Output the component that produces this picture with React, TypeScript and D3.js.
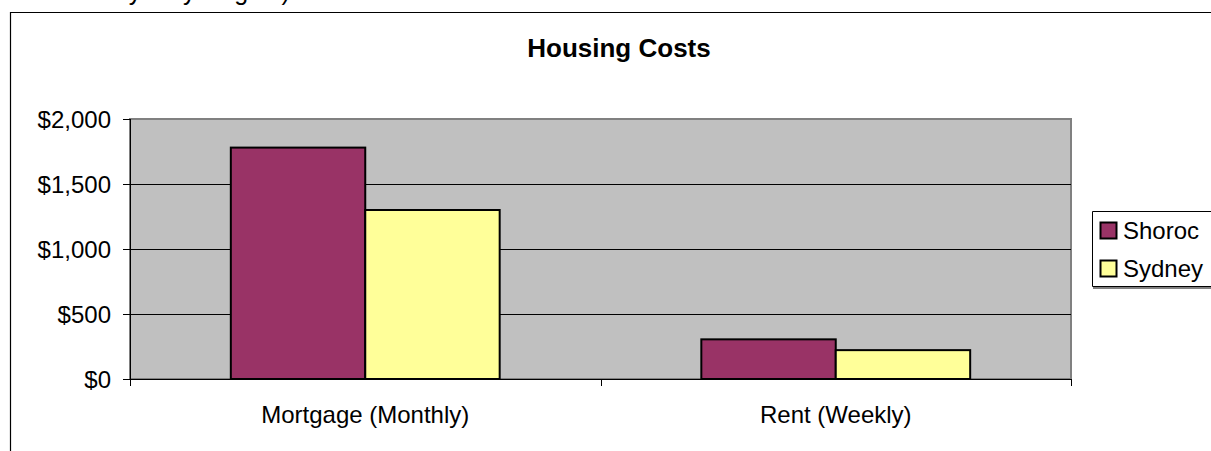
import React from 'react'
import * as d3 from 'd3'

// chart values
const categories = ['Mortgage (Monthly)', 'Rent (Weekly)']
const seriesNames = ['Shoroc', 'Sydney']
const shorocValues = [1780, 305]
const sydneyValues = [1300, 222]
const seriesColors = ['#993366', '#FFFF99']
const yTicks = [0, 500, 1000, 1500, 2000]

const W = 1211
const H = 451
const FONT = '"Liberation Sans", Arial, sans-serif'

const plot = { left: 130, right: 1071, top: 119, bottom: 379 }

export default function App() {
  const series = [shorocValues, sydneyValues]

  const x0 = d3.scaleBand().domain(categories).range([plot.left, plot.right]).padding(0)
  // excel style gap width 150% -> outer padding of 0.75 bar each side
  const x1 = d3.scaleBand().domain(seriesNames).range([0, x0.bandwidth()]).paddingInner(0).paddingOuter(0.75)
  const y = d3.scaleLinear().domain([0, 2000]).range([plot.bottom, plot.top])

  const fmt = (v) => '$' + d3.format(',')(v)

  return (
    <svg width={W} height={H} style={{ position: 'absolute', left: 0, top: 0, background: '#fff', overflow: 'hidden' }}
      fontFamily={FONT}>
      {/* clipped line of text from above the chart */}
      <text x={112} y={0} fontSize={25} fill="#000">Sydney Region)</text>

      {/* chart frame, only left and top edges fall inside the picture */}
      <path d={`M10.5,${H + 5}V12.5H${W + 5}`} fill="none" stroke="#000" strokeWidth={1.2} />

      <text x={619} y={57} textAnchor="middle" fontSize={26} fontWeight="bold" fill="#000">Housing Costs</text>

      {/* plot area */}
      <rect x={plot.left} y={plot.top} width={plot.right - plot.left} height={plot.bottom - plot.top}
        fill="#C0C0C0" stroke="#808080" strokeWidth={2} />

      {yTicks.filter(t => t > 0 && t < 2000).map(t => (
        <line key={'g' + t} x1={plot.left} x2={plot.right} y1={Math.round(y(t)) + 0.5} y2={Math.round(y(t)) + 0.5}
          stroke="#000" strokeWidth={1} />
      ))}

      {categories.map((c, ci) => (
        <g key={c} transform={`translate(${x0(c)},0)`}>
          {seriesNames.map((s, si) => (
            <rect key={s} x={x1(s)} y={y(series[si][ci])} width={x1.bandwidth()}
              height={plot.bottom - y(series[si][ci])} fill={seriesColors[si]} stroke="#000" strokeWidth={2} />
          ))}
        </g>
      ))}

      {/* axes */}
      <line x1={plot.left + 0.5} x2={plot.left + 0.5} y1={plot.top} y2={plot.bottom} stroke="#000" />
      <line x1={plot.left} x2={plot.right} y1={plot.bottom + 0.5} y2={plot.bottom + 0.5} stroke="#000" />
      {yTicks.map(t => (
        <g key={'t' + t}>
          <line x1={123} x2={plot.left} y1={Math.round(y(t)) + 0.5} y2={Math.round(y(t)) + 0.5} stroke="#000" />
          <text x={111} y={y(t)} dy="0.36em" textAnchor="end" fontSize={24} fill="#000">{fmt(t)}</text>
        </g>
      ))}
      {[plot.left, ...categories.map(c => x0(c) + x0.step())].map((tx, i) => (
        <line key={'xt' + i} x1={Math.round(tx) + 0.5} x2={Math.round(tx) + 0.5} y1={plot.bottom} y2={plot.bottom + 7} stroke="#000" />
      ))}
      {categories.map(c => (
        <text key={'l' + c} x={x0(c) + x0.bandwidth() / 2} y={423} textAnchor="middle" fontSize={24} fill="#000">{c}</text>
      ))}

      {/* legend, its right side runs off the picture */}
      <path d={`M${W + 5},211.5H1092.5V286.5H${W + 5}`} fill="#fff" stroke="#000" strokeWidth={1} />
      <line x1={1093} x2={W} y1={288} y2={288} stroke="#808080" strokeWidth={2} />
      {seriesNames.map((s, i) => (
        <g key={'lg' + s} transform={`translate(1100,${222 + i * 38})`}>
          <rect x={0.5} y={0.5} width={16} height={16} fill={seriesColors[i]} stroke="#000" strokeWidth={2} />
          <text x={23} y={8.5} dy="0.36em" fontSize={24} fill="#000">{s}</text>
        </g>
      ))}
    </svg>
  )
}
